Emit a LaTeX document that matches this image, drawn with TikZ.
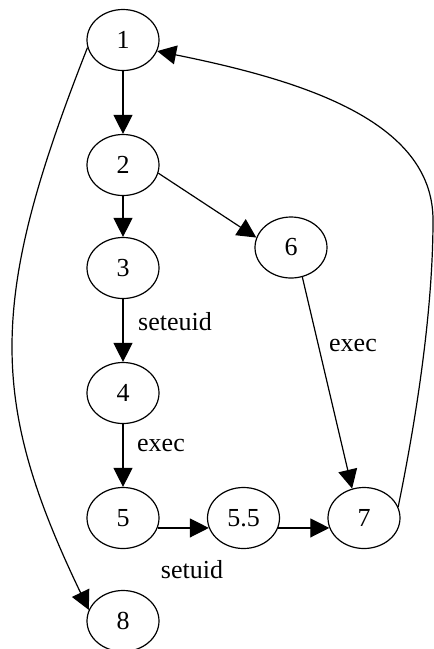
\documentclass[tikz,border=0pt]{standalone}
\usepackage{fontspec}
\setmainfont{Liberation Serif}
\usetikzlibrary{arrows.meta,shapes.geometric}
\begin{document}
\begin{tikzpicture}[x=1pt,y=-1pt,
  state/.style={draw,ellipse,line width=1.2pt,inner sep=0pt,minimum width=72pt,minimum height=61pt,font=\fontsize{26}{30}\selectfont},
  lbl/.style={font=\fontsize{26}{30}\selectfont,inner sep=0pt},
  edge/.style={line width=1.2pt,-{Triangle[length=19pt,width=19pt]}}]
\useasboundingbox (0,0) rectangle (434,649);
\node[state] (n1) at (123,40) {1};
\node[state] (n2) at (123,165) {2};
\node[state] (n3) at (123,268) {3};
\node[state] (n4) at (123,393) {4};
\node[state] (n5) at (123,518) {5};
\node[state] (n55) at (243.5,518) {5.5};
\node[state] (n7) at (364,518) {7};
\node[state] (n6) at (291,247.5) {6};
\node[state] (n8) at (123,621) {8};
\node[lbl] (l1) at (175,322) {seteuid};
\node[lbl] (l2) at (161,445) {exec};
\node[lbl] (l3) at (192,570) {setuid};
\node[lbl] (l4) at (353,345) {exec};
\draw[edge] (n1) -- (n2);
\draw[edge] (n2) -- (n3);
\draw[edge] (n3) -- (n4);
\draw[edge] (n4) -- (n5);
\draw[edge] (n5.-16) -- (n55.196);
\draw[edge] (n55.-16) -- (n7.196);
\draw[edge] (n2.347) -- (n6.164);
\draw[edge] (n6.291) -- (n7.112);
\draw[edge] (n1.192) .. controls (-12,300) and (-12,400) .. (n8.162);
\coordinate (c1) at (433,220);
\draw[edge] (n7.18) .. controls (420,400) and (433,300) .. (c1) .. controls (433,120) and (300,80) .. (n1.342);
\end{tikzpicture}
\end{document}
